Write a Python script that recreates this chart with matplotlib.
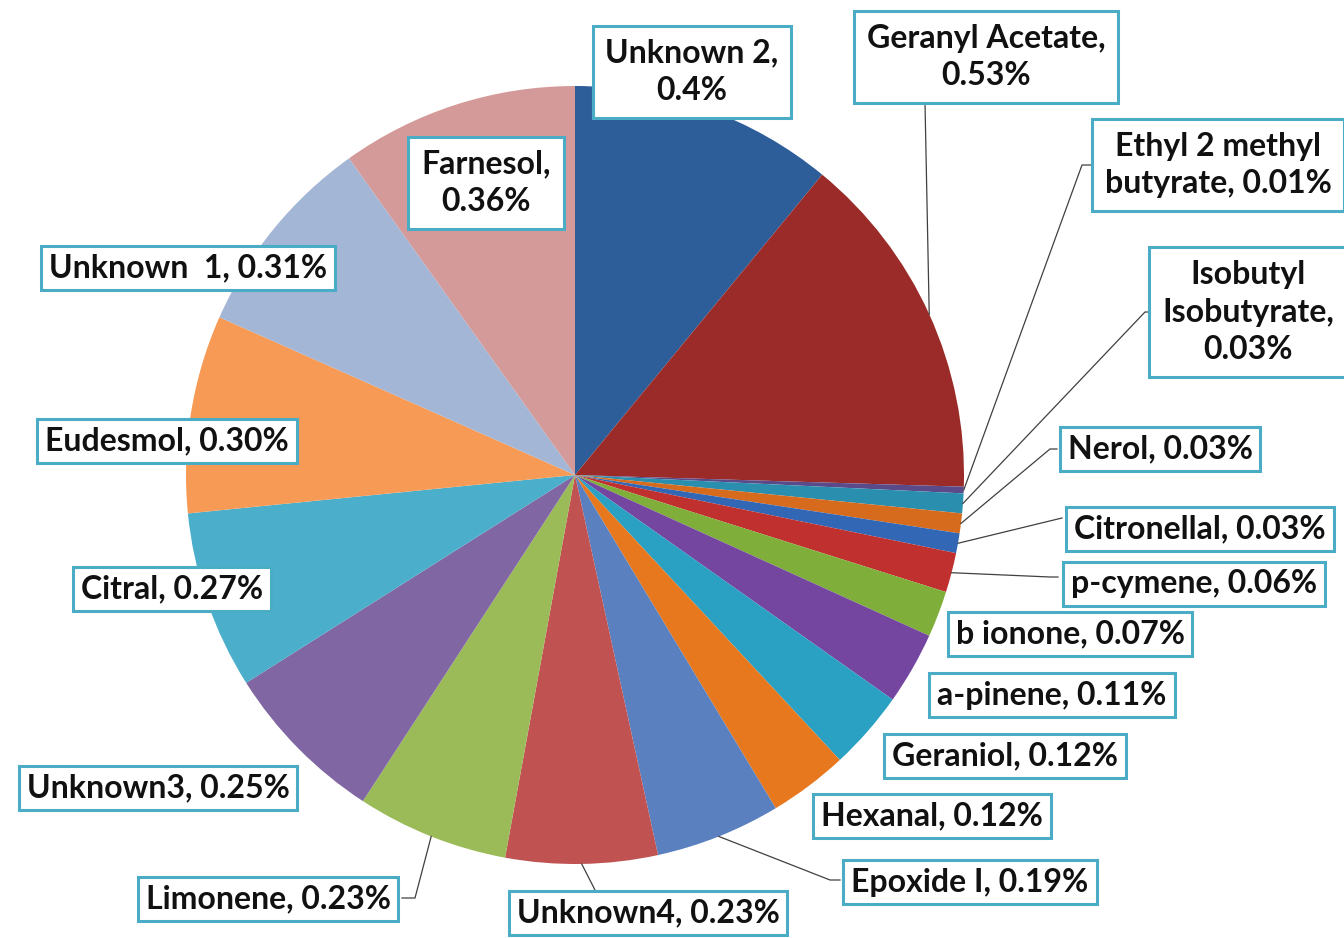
import matplotlib.pyplot as plt
import numpy as np

names = ["Unknown 2,\n0.4%", "Geranyl Acetate,\n0.53%", "Ethyl 2 methyl\nbutyrate, 0.01%",
         "Isobutyl\nIsobutyrate,\n0.03%", "Nerol, 0.03%", "Citronellal, 0.03%",
         "p-cymene, 0.06%", "b ionone, 0.07%", "a-pinene, 0.11%", "Geraniol, 0.12%",
         "Hexanal, 0.12%", "Epoxide I, 0.19%", "Unknown4, 0.23%", "Limonene, 0.23%",
         "Unknown3, 0.25%", "Citral, 0.27%", "Eudesmol, 0.30%", "Unknown  1, 0.31%",
         "Farnesol,\n0.36%"]
values = [0.4, 0.53, 0.01, 0.03, 0.03, 0.03, 0.06, 0.07, 0.11, 0.12,
          0.12, 0.19, 0.23, 0.23, 0.25, 0.27, 0.30, 0.31, 0.36]
colors = ['#2E5E9A', '#9A2B28', '#5B4A8A', '#2A8FAE', '#D66B1E', '#3267B5',
          '#C0302E', '#7FAF3A', '#7446A0', '#2AA0C2', '#E8781E', '#5A80C0',
          '#C05252', '#9BBB59', '#8066A2', '#4BAFCB', '#F79A55', '#A3B6D6', '#D49A99']

W, H = 1344, 938
# label box centres (pixels from top-left) and leader anchor (None = no line)
label_pos = [(692, 72), (986, 57), (1218, 165), (1248, 312), (1160, 449), (1200, 529),
             (1194, 584), (1070, 634), (1052, 695), (1005, 756), (932, 816), (970, 882),
             (648, 913), (268, 899), (158, 788), (172, 589), (167, 441), (188, 268), (486, 183)]
anchors = [None, (925, 103), (1082, 165), (1145, 312), (1050, 449), (1062, 518),
           (1050, 577), None, None, None, None, (830, 880),
           (595, 890), (415, 898), None, None, None, None, None]
stubs = [None, None, 1095, 1155, 1057, None, 1058, None, None, None, None, 840,
         None, 402, None, None, None, None, None]

fig = plt.figure(figsize=(W / 100, H / 100), dpi=100)
ax = fig.add_axes([0, 0, 1, 1])
cx, cy, r = 575, H - 475, 389
wedges, _ = ax.pie(values, colors=colors, startangle=90, counterclock=False,
                   center=(cx, cy), radius=r, frame=True,
                   wedgeprops=dict(linewidth=0))
ax.set_xlim(0, W)
ax.set_ylim(0, H)
ax.set_aspect('equal')
ax.axis('off')

for i, w in enumerate(wedges):
    if anchors[i] is not None:
        mid = np.deg2rad((w.theta1 + w.theta2) / 2)
        px, py = cx + r * np.cos(mid), cy + r * np.sin(mid)
        axx, ayy = anchors[i]
        xs, ys = [px, axx], [py, H - ayy]
        if stubs[i] is not None:
            xs.append(stubs[i])
            ys.append(H - ayy)
        ax.plot(xs, ys, color='#404040', lw=0.9, zorder=3)
    tx, ty = label_pos[i]
    multi = '\n' in names[i]
    ax.text(tx, H - ty, names[i], ha='center', va='center', fontsize=23,
            family='Lato', fontweight='bold', color='#111111',
            linespacing=1.35, zorder=5,
            bbox=dict(boxstyle='square,pad=%s' % (0.4 if multi else 0.25),
                      fc='white', ec='#4BACC6', lw=2.2))

fig.savefig('out.png', dpi=100)
